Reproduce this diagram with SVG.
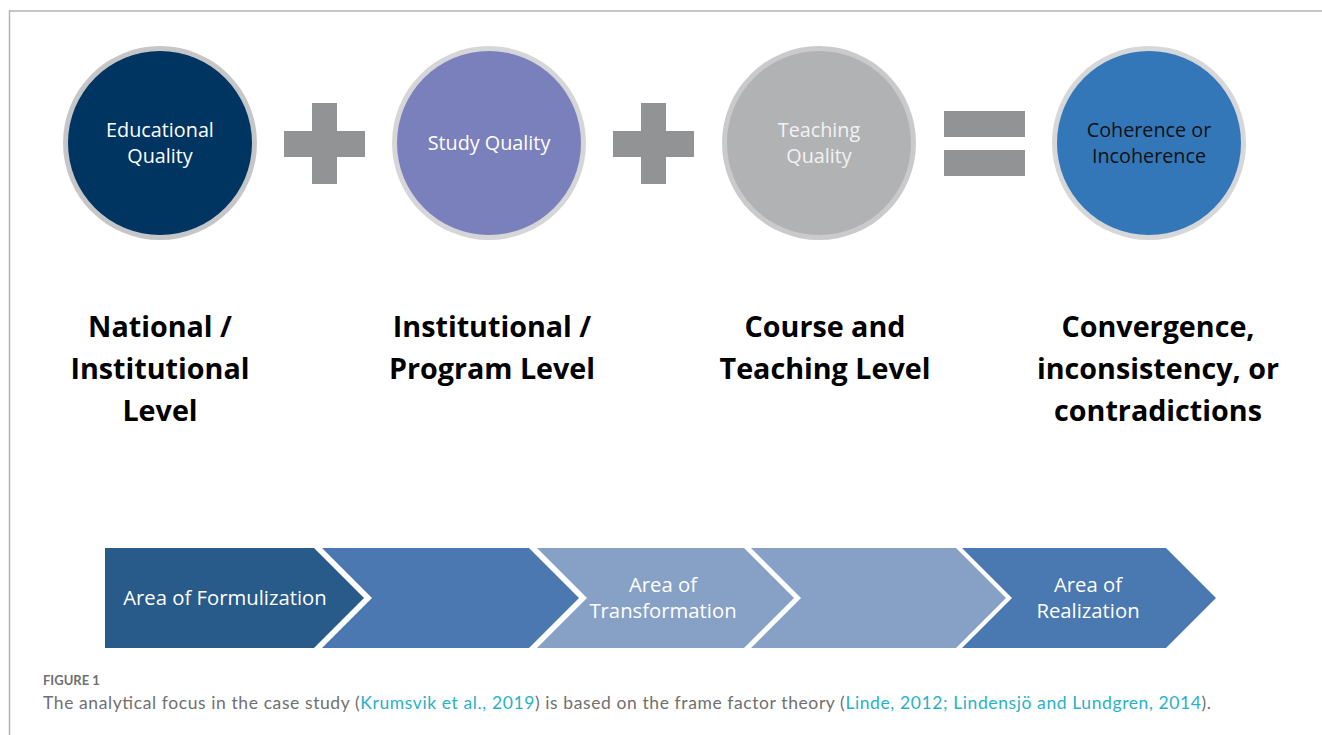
<svg xmlns="http://www.w3.org/2000/svg" width="1322" height="735" viewBox="0 0 1322 735">
  <style>
    .ctext { font-family: "Open Sans", "Liberation Sans", sans-serif; font-size: 19.8px; text-anchor: middle; }
    .level { font-family: "Open Sans", "Liberation Sans", sans-serif; font-size: 28.7px; font-weight: bold; text-anchor: middle; fill: #000; }
    .op { fill: #929395; }
    .atext { font-family: "Open Sans", "Liberation Sans", sans-serif; font-size: 20.3px; text-anchor: middle; fill: #fff; }
    .cap { font-family: "Lato", "Open Sans", sans-serif; fill: #707070; }
    .link { fill: #2ab0c8; }
  </style>
  <rect width="1322" height="735" fill="#fff"/>
  <!-- panel frame -->
  <path d="M9.5 735 V11 H1322" fill="none" stroke="#b3b3b3" stroke-width="1.5"/>

  <!-- quality circles -->
  <g id="educational-quality">
    <circle cx="160" cy="143" r="97" fill="#c5c6c8"/>
    <circle cx="160" cy="143" r="92" fill="#003562"/>
    <text class="ctext" fill="#fff" x="160" y="137">Educational</text>
    <text class="ctext" fill="#fff" x="160" y="163">Quality</text>
  </g>
  <g id="plus-1">
    <rect class="op" x="284" y="131" width="81" height="26"/>
    <rect class="op" x="312" y="103" width="25" height="81"/>
  </g>
  <g id="study-quality">
    <circle cx="489" cy="143" r="97" fill="#d6d6d8"/>
    <circle cx="489" cy="143" r="92" fill="#7a80bb"/>
    <text class="ctext" fill="#fff" x="489" y="150">Study Quality</text>
  </g>
  <g id="plus-2">
    <rect class="op" x="613" y="131" width="81" height="26"/>
    <rect class="op" x="641" y="103" width="25" height="81"/>
  </g>
  <g id="teaching-quality">
    <circle cx="819" cy="143" r="97" fill="#cacacc"/>
    <circle cx="819" cy="143" r="92" fill="#b1b2b4"/>
    <text class="ctext" fill="#f2f2f2" x="819" y="137">Teaching</text>
    <text class="ctext" fill="#f2f2f2" x="819" y="163">Quality</text>
  </g>
  <g id="equals">
    <rect class="op" x="944" y="111" width="81" height="26"/>
    <rect class="op" x="944" y="150" width="81" height="26"/>
  </g>
  <g id="coherence">
    <circle cx="1149" cy="143" r="97" fill="#d6d7d9"/>
    <circle cx="1149" cy="143" r="92" fill="#3477b9"/>
    <text class="ctext" fill="#111" x="1149" y="137">Coherence or</text>
    <text class="ctext" fill="#111" x="1149" y="163">Incoherence</text>
  </g>

  <!-- level labels -->
  <g id="level-national">
    <text class="level" x="160" y="337">National /</text>
    <text class="level" x="160" y="379">Institutional</text>
    <text class="level" x="160" y="421">Level</text>
  </g>
  <g id="level-institutional">
    <text class="level" x="492" y="337">Institutional /</text>
    <text class="level" x="492" y="379">Program Level</text>
  </g>
  <g id="level-course">
    <text class="level" x="825" y="337">Course and</text>
    <text class="level" x="825" y="379">Teaching Level</text>
  </g>
  <g id="level-outcome">
    <text class="level" x="1158" y="337">Convergence,</text>
    <text class="level" x="1158" y="379">inconsistency, or</text>
    <text class="level" x="1158" y="421">contradictions</text>
  </g>

  <!-- process chevrons -->
  <g id="chevron-formulization">
    <polygon points="105,548 314,548 364,598 314,648 105,648" fill="#285a8a"/>
    <text class="atext" x="225" y="605">Area of Formulization</text>
  </g>
  <g id="chevron-2">
    <polygon points="322,548 529,548 579,598 529,648 322,648 372,598" fill="#4b78b0"/>
  </g>
  <g id="chevron-transformation">
    <polygon points="537,548 744,548 794,598 744,648 537,648 587,598" fill="#87a1c6"/>
    <text class="atext" x="663" y="592">Area of</text>
    <text class="atext" x="663" y="618">Transformation</text>
  </g>
  <g id="chevron-4">
    <polygon points="751,548 956,548 1006,598 956,648 751,648 801,598" fill="#87a1c6"/>
  </g>
  <g id="chevron-realization">
    <polygon points="962,548 1166,548 1216,598 1166,648 962,648 1012,598" fill="#4a78b0"/>
    <text class="atext" x="1088" y="592">Area of</text>
    <text class="atext" x="1088" y="618">Realization</text>
  </g>

  <!-- caption -->
  <text class="cap" x="43" y="685" font-size="13" font-weight="bold">FIGURE 1</text>
  <text class="cap" x="43" y="709" font-size="17.5" textLength="1168" lengthAdjust="spacing">The analytical focus in the case study (<tspan class="link">Krumsvik et al., 2019</tspan>) is based on the frame factor theory (<tspan class="link">Linde, 2012; Lindensjö and Lundgren, 2014</tspan>).</text>
</svg>
